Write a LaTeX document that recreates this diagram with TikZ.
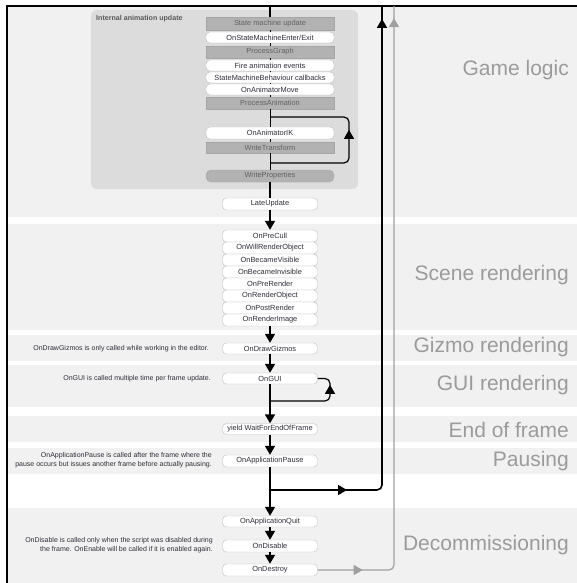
\documentclass[tikz,border=0pt]{standalone}
\usepackage{fontspec}
\setmainfont{Liberation Sans}
\usetikzlibrary{arrows.meta,decorations.markings}
\definecolor{bandgrey}{HTML}{F1F1F1}
\definecolor{panelgrey}{HTML}{DCDCDC}
\definecolor{boxgrey}{HTML}{B2B2B2}
\definecolor{labelgrey}{HTML}{9B9B9B}
\definecolor{linegrey}{HTML}{A0A0A0}
\definecolor{textdark}{HTML}{2E2E38}

\begin{document}
\begin{tikzpicture}[x=1pt,y=-1pt,
		call/.style={draw=black!25, fill=white, rounded corners=4pt, minimum width=95pt, minimum height=12pt, inner sep=0pt, font=\fontsize{7.4}{8}\selectfont, text=textdark},
		anim/.style={call, minimum width=128pt},
		phase/.style={anim, rounded corners=0pt, fill=boxgrey, draw=black!35, text=black!62},
		note/.style={anchor=east, align=right, inner sep=0pt, font=\fontsize{7}{9}\selectfont, text=textdark},
		stage/.style={anchor=east, inner sep=0pt, font=\fontsize{21}{24}\selectfont, text=labelgrey},
		tip/.style={-{Triangle[width=10pt,length=9pt]}},
		flow/.style={line width=1.6pt, tip},
		tie/.style={line width=1pt},
		back/.style={line width=1.2pt, rounded corners=5pt},
		midarrow/.style={postaction={decorate}, decoration={markings, mark=at position #1 with {\arrow{Triangle[width=10pt,length=9pt]}}}}]
			\useasboundingbox (0,0) rectangle (577,583);
			\fill[white] (0,0) rectangle (577,583);
			\fill[bandgrey] (7,6) rectangle (577,217);
			\fill[bandgrey] (7,224) rectangle (577,330);
			\fill[bandgrey] (7,335) rectangle (577,361);
			\fill[bandgrey] (7,365) rectangle (577,407);
			\fill[bandgrey] (7,416) rectangle (577,442);
			\fill[bandgrey] (7,448) rectangle (577,474);
			\fill[bandgrey] (7,508) rectangle (577,583);
			\fill[panelgrey, rounded corners=6pt] (91,10) rectangle (358,189);
			\draw[line width=2.5pt] (7,583) -- (7,6) -- (577,6);
			
			\node[stage] (LA) at (569,70) {Game logic};
			\node[stage] (LB) at (569,275) {Scene rendering};
			\node[stage] (LC) at (569,347) {Gizmo rendering};
			\node[stage] (LD) at (569,385) {GUI rendering};
			\node[stage] (LE) at (569,430) {End of frame};
			\node[stage] (LF) at (569,461) {Pausing};
			\node[stage] (LG) at (569,545) {Decommissioning};
			
			\node[anchor=west, inner sep=0pt, font=\bfseries\fontsize{7.1}{8}\selectfont, text=black!65] (IA) at (96,18.5) {Internal animation update};
			\node[phase, minimum height=13pt] (GA) at (270,23.5) {State machine update};
			\node[anim, minimum height=11pt] (GB) at (270,37.5) {OnStateMachineEnter/Exit};
			\node[phase] (GC) at (270,52) {ProcessGraph};
			\node[anim, minimum height=11pt] (GD) at (270,65.5) {Fire animation events};
			\node[anim, minimum height=11pt] (GE) at (270,77.5) {StateMachineBehaviour callbacks};
			\node[anim, minimum height=11pt] (GF) at (270,89.5) {OnAnimatorMove};
			\node[phase] (GG) at (270,103) {ProcessAnimation};
			\node[anim] (GH) at (270,133) {OnAnimatorIK};
			\node[phase, minimum height=11pt] (GI) at (270,147.5) {WriteTransform};
			\node[phase, rounded corners=5pt] (GJ) at (270,176) {WriteProperties};
			
			\node[call] (LU) at (270,204) {LateUpdate};
			\node[call] (SA) at (270,236) {OnPreCull};
			\node[call] (SB) at (270,248) {OnWillRenderObject};
			\node[call] (SC) at (270,260) {OnBecameVisible};
			\node[call] (SD) at (270,272) {OnBecameInvisible};
			\node[call] (SE) at (270,284) {OnPreRender};
			\node[call] (SF) at (270,296) {OnRenderObject};
			\node[call] (SG) at (270,308) {OnPostRender};
			\node[call] (SH) at (270,320) {OnRenderImage};
			\node[call, minimum height=11pt] (DG) at (270,348.5) {OnDrawGizmos};
			\node[call, minimum height=11pt] (OG) at (270,378.5) {OnGUI};
			\node[call, minimum height=11pt] (WE) at (270,429) {yield WaitForEndOfFrame};
			\node[call] (AP) at (270,461) {OnApplicationPause};
			\node[call, minimum height=11pt] (AQ) at (270,521.5) {OnApplicationQuit};
			\node[call] (DI) at (270,546) {OnDisable};
			\node[call] (DE) at (270,570) {OnDestroy};
			
			\node[note] (NA) at (209,349) {OnDrawGizmos is only called while working in the editor.};
			\node[note] (NB) at (211,378.5) {OnGUI is called multiple time per frame update.};
			\node[note] (NC) at (212,460) {OnApplicationPause is called after the frame where the\\pause occurs but issues another frame before actually pausing.};
			\node[note] (ND) at (213,545) {OnDisable is called only when the script was disabled during\\the frame. OnEnable will be called if it is enabled again.};
			
			\coordinate (TM) at (270,6);
			\coordinate (TP) at (382,6);
			\coordinate (TD) at (394,6);
			\coordinate (KA) at (270,163);
			\coordinate (KB) at (270,117);
			\coordinate (KG) at (270,401);
			\coordinate (PB) at (270,490);
			
			\draw[line width=1.4pt] (TM)--(GA);
			\draw[tie] (GA)--(GB);
			\draw[tie] (GB)--(GC);
			\draw[tie] (GC)--(GD);
			\draw[tie] (GD)--(GE);
			\draw[tie] (GE)--(GF);
			\draw[tie] (GF)--(GG);
			\draw[tie] (GG)--(GH);
			\draw[tie] (GH)--(GI);
			\draw[tie] (GI)--(GJ);
			\draw[line width=1.4pt] (GJ)--(LU);
			\draw[back, midarrow=110pt] (KA) -- (349,163) -- (349,117) -- (KB);
			
			\draw[flow] (LU)--(SA);
			\draw[flow] (SH)--(DG);
			\draw[flow] (DG)--(OG);
			\draw[flow] (OG)--(WE);
			\draw[flow] (WE)--(AP);
			\draw[flow] (AP)--(AQ);
			\draw[flow] (AQ)--(DI);
			\draw[flow] (DI)--(DE);
			\draw[back, midarrow=74pt] (KG) -- (330,401) -- (330,378.5) -- (OG.east);
			\draw[line width=1.6pt, rounded corners=5pt, postaction={decorate}, decoration={markings,
				mark=at position 77pt with {\arrow{Triangle[width=10pt,length=9pt]}},
				mark=at position 581pt with {\arrow{Triangle[width=10pt,length=9pt]}}}] (PB) -- (382,490) -- (TP);
			\draw[color=linegrey, line width=1.2pt, rounded corners=5pt, postaction={decorate}, decoration={markings,
				mark=at position 45pt with {\arrow{Triangle[width=10pt,length=9pt]}},
				mark=at position 626pt with {\arrow{Triangle[width=10pt,length=9pt]}}}] (DE.east) -- (394,570) -- (TD);
		\end{tikzpicture}
\end{document}
